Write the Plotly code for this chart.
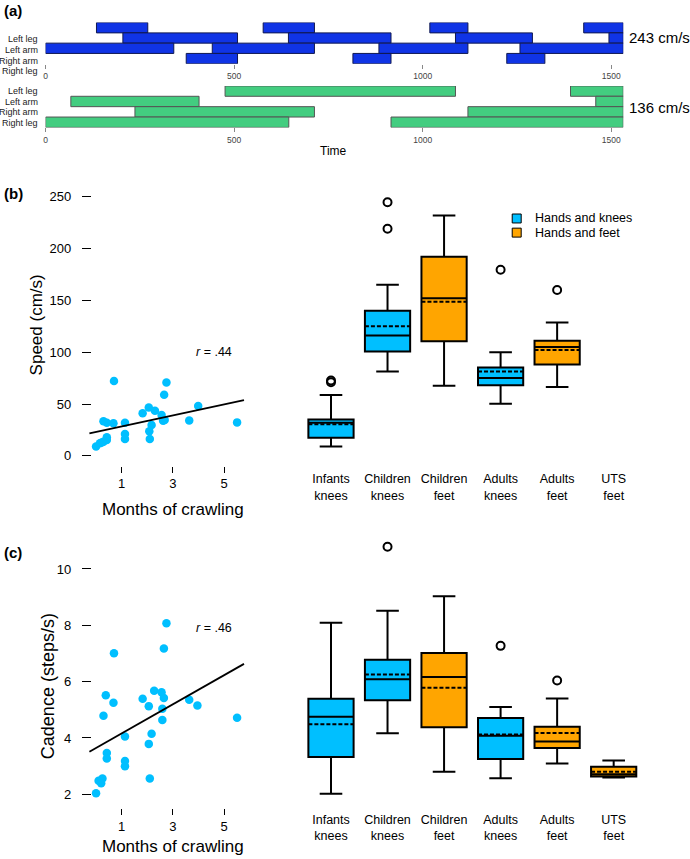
import plotly.graph_objects as go

W, H = 690, 859
FONT = "Liberation Sans, Arial, sans-serif"

# ---------------- Panel (a) data: gait diagrams (start / end times) ----------------
limb_labels = ["Left leg", "Left arm", "Right arm", "Right leg"]
fast_starts = [[135, 577, 1019, 1427], [205, 644, 1087, 1494], [0, 442, 884, 1258], [373, 815, 1223]]
fast_ends = [[271, 713, 1120, 1532], [509, 916, 1291, 1532], [340, 713, 1120, 1532], [509, 916, 1324]]
slow_starts = [[476, 1392], [67, 1459], [237, 1120], [0, 916]]
slow_ends = [[1087, 1532], [407, 1532], [713, 1532], [645, 1532]]
time_ticks = [0, 500, 1000, 1500]
fast_label = "243 cm/s"
slow_label = "136 cm/s"

# ---------------- Panel (b)/(c) scatter data ----------------
speed_months = [0.70, 2.75, 2.66, 3.99, 1.82, 2.06, 2.30, 2.56, 2.62, 2.68, 3.64, 5.51, 0.29, 0.42,
                0.68, 1.13, 1.13, 1.13, 2.17, 2.08, 2.10, 0.42, 0.42, 0.29, 0.15, 0.0, 0.22]
speed_vals = [72.3, 70.7, 58.9, 48.0, 41.0, 46.7, 43.5, 39.3, 33.9, 34.5, 34.2, 32.3, 33.3, 32.0,
              31.4, 32.0, 21.0, 16.3, 29.8, 23.7, 16.3, 17.9, 15.4, 13.7, 12.1, 9.0, 13.0]
speed_fit_x = [-0.26, 5.78]
speed_fit_y = [21.8, 53.7]

cad_months = [2.75, 2.65, 0.70, 2.27, 2.56, 2.65, 0.38, 0.68, 1.82, 2.06, 3.64, 3.96, 2.59, 2.59,
              0.29, 5.51, 1.13, 2.17, 2.06, 0.42, 0.42, 1.13, 1.13, 2.10, 0.25, 0.10, 0.20, 0.0]
cad_vals = [8.07, 7.18, 7.01, 5.68, 5.62, 5.42, 5.52, 5.25, 5.39, 5.13, 5.36, 5.15, 5.04, 4.64,
            4.79, 4.72, 4.05, 4.15, 3.79, 3.47, 3.27, 3.18, 3.00, 2.56, 2.56, 2.48, 2.39, 2.04]
cad_fit_x = [-0.26, 5.78]
cad_fit_y = [3.51, 6.63]

# ---------------- Box plot summary data ----------------
categories = ["Infants knees", "Children knees", "Children feet", "Adults knees", "Adults feet", "UTS feet"]
cat_labels = ["Infants<br>knees", "Children<br>knees", "Children<br>feet", "Adults<br>knees", "Adults<br>feet", "UTS<br>feet"]
knees_cats = ["Infants knees", "Children knees", "Adults knees"]
feet_cats_b = ["Children feet", "Adults feet"]
feet_cats_c = ["Children feet", "Adults feet", "UTS feet"]

# speed (cm/s)
sp_knees_low = [9.0, 81.4, 50.3]
sp_knees_q1 = [17.6, 100.6, 68.0]
sp_knees_med = [32.0, 116.0, 75.0]
sp_knees_mean = [30.6, 125.0, 81.4]
sp_knees_q3 = [35.0, 140.0, 85.3]
sp_knees_high = [58.7, 165.0, 100.0]
sp_feet_low = [67.6, 66.3]
sp_feet_q1 = [110.6, 88.0]
sp_feet_med = [152.0, 105.0]
sp_feet_mean = [148.7, 102.0]
sp_feet_q3 = [192.0, 111.0]
sp_feet_high = [231.7, 128.5]
sp_out_cat = ["Infants knees", "Infants knees", "Children knees", "Children knees", "Adults knees", "Adults feet"]
sp_out_val = [71.0, 72.7, 219.0, 244.6, 179.5, 160.0]

# cadence (steps/s)
cd_knees_low = [2.02, 4.17, 2.57]
cd_knees_q1 = [3.32, 5.34, 3.25]
cd_knees_med = [4.75, 6.08, 4.08]
cd_knees_mean = [4.49, 6.25, 4.12]
cd_knees_q3 = [5.39, 6.78, 4.71]
cd_knees_high = [8.09, 8.52, 5.10]
cd_feet_low = [2.80, 3.09, 2.60]
cd_feet_q1 = [4.38, 3.64, 2.63]
cd_feet_med = [6.16, 3.87, 2.71]
cd_feet_mean = [5.78, 4.18, 2.80]
cd_feet_q3 = [7.02, 4.40, 2.98]
cd_feet_high = [9.03, 5.40, 3.20]
cd_out_cat = ["Children knees", "Adults knees", "Adults feet"]
cd_out_val = [10.79, 7.27, 6.04]

BLUE = "#00BFFF"
ORANGE = "#FFA500"
GAIT_BLUE = "#1034E6"
GAIT_GREEN = "#43CD80"


def px_x(p):
    return p / W


def px_y(p):
    return 1 - p / H


fig = go.Figure()


def gait_trace(starts, ends, color, edge, xa, ya):
    ys, bases, lens = [], [], []
    for i, (ss, ee) in enumerate(zip(starts, ends)):
        for s, e in zip(ss, ee):
            ys.append(3.5 - i)
            bases.append(s)
            lens.append(e - s)
    return go.Bar(orientation="h", y=ys, x=lens, base=bases, width=1,
                  marker=dict(color=color, line=dict(color=edge, width=1)),
                  xaxis=xa, yaxis=ya, showlegend=False, hoverinfo="skip")


fig.add_trace(gait_trace(fast_starts, fast_ends, GAIT_BLUE, "#101850", "x", "y"))
fig.add_trace(gait_trace(slow_starts, slow_ends, GAIT_GREEN, "#555555", "x2", "y2"))

# scatter b
fig.add_trace(go.Scatter(x=speed_months, y=speed_vals, mode="markers",
                         marker=dict(color=BLUE, size=8.5), xaxis="x3", yaxis="y3",
                         showlegend=False, cliponaxis=False))
fig.add_trace(go.Scatter(x=speed_fit_x, y=speed_fit_y, mode="lines",
                         line=dict(color="black", width=1.8), xaxis="x3", yaxis="y3", showlegend=False))
# scatter c
fig.add_trace(go.Scatter(x=cad_months, y=cad_vals, mode="markers",
                         marker=dict(color=BLUE, size=8.5), xaxis="x5", yaxis="y5",
                         showlegend=False, cliponaxis=False))
fig.add_trace(go.Scatter(x=cad_fit_x, y=cad_fit_y, mode="lines",
                         line=dict(color="black", width=1.8), xaxis="x5", yaxis="y5", showlegend=False))


def box(cats, low, q1, med, mean, q3, high, color, xa, ya):
    return go.Box(x=cats, lowerfence=low, q1=q1, median=med, mean=mean, q3=q3, upperfence=high,
                  boxmean=True, fillcolor=color, line=dict(color="black", width=2),
                  whiskerwidth=0.5, width=0.8, xaxis=xa, yaxis=ya, showlegend=False,
                  hoverinfo="skip")


fig.add_trace(box(knees_cats, sp_knees_low, sp_knees_q1, sp_knees_med, sp_knees_mean, sp_knees_q3,
                  sp_knees_high, BLUE, "x4", "y4"))
fig.add_trace(box(feet_cats_b, sp_feet_low, sp_feet_q1, sp_feet_med, sp_feet_mean, sp_feet_q3,
                  sp_feet_high, ORANGE, "x4", "y4"))
fig.add_trace(go.Scatter(x=sp_out_cat, y=sp_out_val, mode="markers",
                         marker=dict(symbol="circle-open", size=8, color="black", line=dict(width=2)),
                         xaxis="x4", yaxis="y4", showlegend=False))
fig.add_trace(box(knees_cats, cd_knees_low, cd_knees_q1, cd_knees_med, cd_knees_mean, cd_knees_q3,
                  cd_knees_high, BLUE, "x6", "y6"))
fig.add_trace(box(feet_cats_c, cd_feet_low, cd_feet_q1, cd_feet_med, cd_feet_mean, cd_feet_q3,
                  cd_feet_high, ORANGE, "x6", "y6"))
fig.add_trace(go.Scatter(x=cd_out_cat, y=cd_out_val, mode="markers",
                         marker=dict(symbol="circle-open", size=8, color="black", line=dict(width=2)),
                         xaxis="x6", yaxis="y6", showlegend=False))

gait_dom = [px_x(43.7), px_x(43.7 + 1532 * 0.3782)]
common = dict(showgrid=False, zeroline=False, showline=False)

time_axis = dict(domain=gait_dom, range=[0, 1532], anchor="free", tickvals=time_ticks,
                 ticks="outside", ticklen=4, tickcolor="#888888", tickwidth=1,
                 tickfont=dict(size=8.5, color="#444444", family=FONT), **common)

sc_dom = [px_x(84), px_x(246)]
sc_range = [1 + (84 - 120) / 25.67, 1 + (246 - 120) / 25.67]
box_dom = [px_x(301.6), px_x(641.8)]

b_ydom = [px_y(462), px_y(190)]
b_yrange = [(456 - 462) / 1.042, (456 - 190) / 1.042]
c_ydom = [px_y(802), px_y(540)]
c_yrange = [2 + (796 - 802) / 28.3, 2 + (796 - 540) / 28.3]

month_axis = dict(domain=sc_dom, range=sc_range, anchor="free", tickvals=[1, 3, 5],
                  ticks="outside", ticklen=6, tickwidth=1, tickcolor="black",
                  tickfont=dict(size=13, color="black", family=FONT), **common)
val_axis = dict(anchor="free", position=px_x(89), ticks="outside", ticklen=9, tickwidth=1.2,
                tickcolor="black", ticklabelstandoff=8,
                tickfont=dict(size=13, color="black", family=FONT), **common)
cat_axis = dict(domain=box_dom, type="category", categoryorder="array", categoryarray=categories,
                range=[-0.5, 5.5], anchor="free", tickvals=categories, ticktext=cat_labels,
                ticks="", tickfont=dict(size=12.5, color="black", family=FONT), **common)

fig.update_layout(
    width=W, height=H, margin=dict(l=0, r=0, t=0, b=0),
    paper_bgcolor="white", plot_bgcolor="white", barmode="overlay", showlegend=False,
    font=dict(family=FONT, color="black"),
    xaxis=dict(time_axis, position=px_y(62)),
    yaxis=dict(domain=[px_y(62), px_y(20.7)], range=[0, 4], visible=False),
    xaxis2=dict(time_axis, position=px_y(126)),
    yaxis2=dict(domain=[px_y(126), px_y(84.3)], range=[0, 4], visible=False),
    xaxis3=dict(month_axis, position=px_y(466)),
    yaxis3=dict(val_axis, domain=b_ydom, range=b_yrange, tickvals=[0, 50, 100, 150, 200, 250]),
    xaxis4=dict(cat_axis, position=px_y(470)),
    yaxis4=dict(domain=b_ydom, range=b_yrange, visible=False),
    xaxis5=dict(month_axis, position=px_y(810)),
    yaxis5=dict(val_axis, domain=c_ydom, range=c_yrange, tickvals=[2, 4, 6, 8, 10]),
    xaxis6=dict(cat_axis, position=px_y(812)),
    yaxis6=dict(domain=c_ydom, range=c_yrange, visible=False),
)

ann = []


def text(x, y, s, size, xanchor="center", angle=0, bold=False, color="black"):
    if bold:
        s = "<b>" + s + "</b>"
    ann.append(dict(x=px_x(x), y=px_y(y), xref="paper", yref="paper", text=s, showarrow=False,
                    xanchor=xanchor, yanchor="middle", textangle=angle,
                    font=dict(size=size, color=color, family=FONT)))


text(0, 9, "(a)", 15, "left", bold=True)
text(0, 192, "(b)", 15, "left", bold=True)
text(0, 553, "(c)", 15, "left", bold=True)
for lab, yy in zip(limb_labels, [36.7, 48.3, 59.0, 69.3]):
    text(38, yy, lab, 9, "right", color="#222222")
for lab, yy in zip(limb_labels, [89.3, 100.0, 110.7, 121.3]):
    text(38, yy, lab, 9, "right", color="#222222")
text(627, 35.7, fast_label, 15, "left")
text(627, 105.7, slow_label, 15, "left")
text(332, 150, "Time", 12)
text(35, 324, "Speed (cm/s)", 17, angle=-90)
text(46, 687.5, "Cadence (steps/s)", 18, angle=-90)
text(171, 510, "Months of crawling", 17)
text(171, 848, "Months of crawling", 17)
text(213, 352, "<i>r</i> = .44", 12.5)
text(213, 629, "<i>r</i> = .46", 12.5)
text(532.7, 217.5, "Hands and knees", 12.5, "left")
text(532.7, 231.7, "Hands and feet", 12.5, "left")
fig.update_layout(annotations=ann)

shapes = []
for col, yy in [(BLUE, 217.5), (ORANGE, 231.7)]:
    shapes.append(dict(type="rect", xref="paper", yref="paper",
                       x0=px_x(516.2 - 4.5), x1=px_x(516.2 + 4.5),
                       y0=px_y(yy + 4.5), y1=px_y(yy - 4.5),
                       fillcolor=col, line=dict(color="black", width=1)))
fig.update_layout(shapes=shapes)

fig.write_html("out.html", config={"displayModeBar": False},
               post_script="document.body.style.margin='0';")
